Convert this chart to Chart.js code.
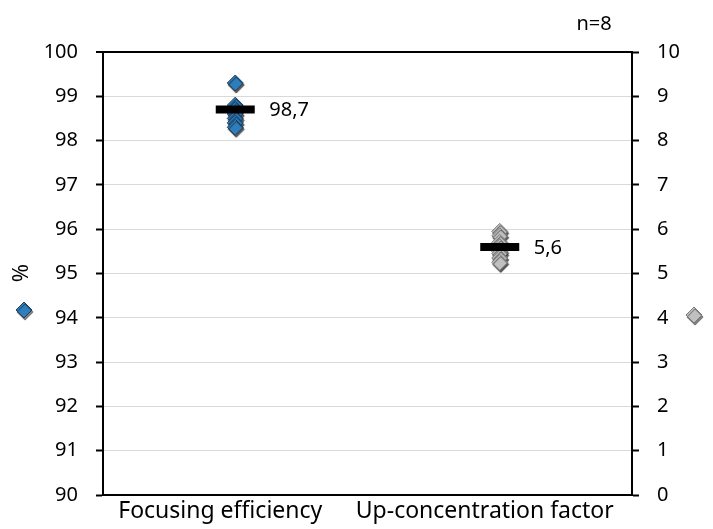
<!DOCTYPE html>
<html>
<head>
<meta charset="utf-8">
<script src="https://cdn.jsdelivr.net/npm/chart.js@4"></script>
<style>
  html, body { margin: 0; padding: 0; background: #fff; }
  #wrap { width: 713px; height: 529px; }
</style>
</head>
<body>
<div id="wrap"><canvas id="chart" width="713" height="529"></canvas></div>
<script>
const categories = ['Focusing efficiency', 'Up-concentration factor'];
const focusingValues = [99.3, 98.8, 98.7, 98.7, 98.6, 98.5, 98.4, 98.3];
const concentrationValues = [5.95, 5.85, 5.7, 5.6, 5.5, 5.45, 5.35, 5.25];
const focusingMean = 98.7;
const concentrationMean = 5.6;
const sampleNote = 'n=8';

const FONT = '"Noto Sans", sans-serif';
const BLUE = '#2f7dbb';
const BLUE_EDGE = '#1d3c5a';
const GREY = '#c0c0c0';
const GREY_EDGE = '#7a7a7a';

const diamondShadow = {
  id: 'diamondShadow',
  beforeDatasetDraw(chart, args) {
    if (!chart.data.datasets[args.index].shadow) return;
    const ctx = chart.ctx;
    ctx.save();
    ctx.shadowColor = 'rgba(0,0,0,0.65)';
    ctx.shadowOffsetX = 1;
    ctx.shadowOffsetY = 2;
    ctx.shadowBlur = 1;
  },
  afterDatasetDraw(chart, args) {
    if (!chart.data.datasets[args.index].shadow) return;
    chart.ctx.restore();
  }
};

const annotations = {
  id: 'annotations',
  afterDraw(chart) {
    const { ctx } = chart;
    ctx.save();
    ctx.fillStyle = '#000';
    ctx.font = '20px ' + FONT;
    ctx.textBaseline = 'middle';
    ctx.textAlign = 'left';

    // mean labels next to the black bars
    [2, 3].forEach(i => {
      const ds = chart.data.datasets[i];
      const pt = chart.getDatasetMeta(i).data[0];
      ctx.fillText(String(ds.data[0].y).replace('.', ','), pt.x + 34, pt.y + 1);
    });

    // n=8
    ctx.textAlign = 'center';
    ctx.fillText(sampleNote, 594, 24);

    // % axis title
    ctx.save();
    ctx.font = '22px ' + FONT;
    ctx.translate(22, 273);
    ctx.rotate(-Math.PI / 2);
    ctx.fillText('%', 0, 0);
    ctx.restore();

    // axis key markers
    ctx.shadowColor = 'rgba(0,0,0,0.5)';
    ctx.shadowOffsetX = 1;
    ctx.shadowOffsetY = 2;
    ctx.shadowBlur = 1;
    ctx.lineWidth = 1;
    ctx.fillStyle = BLUE;
    ctx.strokeStyle = BLUE_EDGE;
    Chart.helpers.drawPoint(ctx, { pointStyle: 'rectRot', radius: 8, borderWidth: 1 }, 24, 310);
    ctx.fillStyle = GREY;
    ctx.strokeStyle = GREY_EDGE;
    Chart.helpers.drawPoint(ctx, { pointStyle: 'rectRot', radius: 8, borderWidth: 1 }, 694, 315);
    ctx.restore();
  }
};

new Chart(document.getElementById('chart'), {
  type: 'scatter',
  plugins: [diamondShadow, annotations],
  data: {
    labels: categories,
    datasets: [
      {
        data: focusingValues.map(v => ({ x: categories[0], y: v })),
        yAxisID: 'y',
        pointStyle: 'rectRot',
        pointRadius: 8,
        backgroundColor: BLUE,
        borderColor: BLUE_EDGE,
        borderWidth: 1,
        shadow: true,
        order: 2
      },
      {
        data: concentrationValues.map(v => ({ x: categories[1], y: v })),
        yAxisID: 'y1',
        pointStyle: 'rectRot',
        pointRadius: 8,
        backgroundColor: GREY,
        borderColor: GREY_EDGE,
        borderWidth: 1,
        shadow: true,
        order: 2
      },
      {
        data: [{ x: categories[0], y: focusingMean }],
        yAxisID: 'y',
        pointStyle: 'line',
        pointRadius: 19.5,
        borderColor: '#000',
        borderWidth: 8,
        order: 1
      },
      {
        data: [{ x: categories[1], y: concentrationMean }],
        yAxisID: 'y1',
        pointStyle: 'line',
        pointRadius: 19.5,
        borderColor: '#000',
        borderWidth: 8,
        order: 1
      }
    ]
  },
  options: {
    responsive: false,
    animation: false,
    layout: { padding: { top: 52, left: 0, right: 0, bottom: 0 } },
    plugins: {
      legend: { display: false },
      tooltip: { enabled: false }
    },
    scales: {
      x: {
        type: 'category',
        labels: categories,
        offset: true,
        grid: { display: false, drawTicks: false },
        border: { color: '#000', width: 2 },
        ticks: {
          color: '#000',
          font: { family: FONT, size: 23 },
          padding: 3,
          labelOffset: -15,
          maxRotation: 0,
          autoSkip: false
        },
        afterFit(s) { s.height = 34; }
      },
      y: {
        position: 'left',
        min: 90,
        max: 100,
        grid: {
          color: ctx => ctx.tick && ctx.tick.value === 100 ? '#000' : '#d9d9d9',
          lineWidth: ctx => ctx.tick && ctx.tick.value === 100 ? 2 : 1,
          tickColor: '#000',
          tickLength: 7,
          tickWidth: 2
        },
        border: { color: '#000', width: 2 },
        ticks: {
          stepSize: 1,
          color: '#000',
          padding: 18,
          font: { family: FONT, size: 20 }
        },
        afterFit(s) { s.width = 103; }
      },
      y1: {
        position: 'right',
        min: 0,
        max: 10,
        grid: {
          drawOnChartArea: false,
          tickColor: '#000',
          tickLength: 7,
          tickWidth: 2
        },
        border: { color: '#000', width: 2 },
        ticks: {
          stepSize: 1,
          color: '#000',
          padding: 18,
          font: { family: FONT, size: 20 }
        },
        afterFit(s) { s.width = 81; }
      }
    }
  }
});
</script>
</body>
</html>
